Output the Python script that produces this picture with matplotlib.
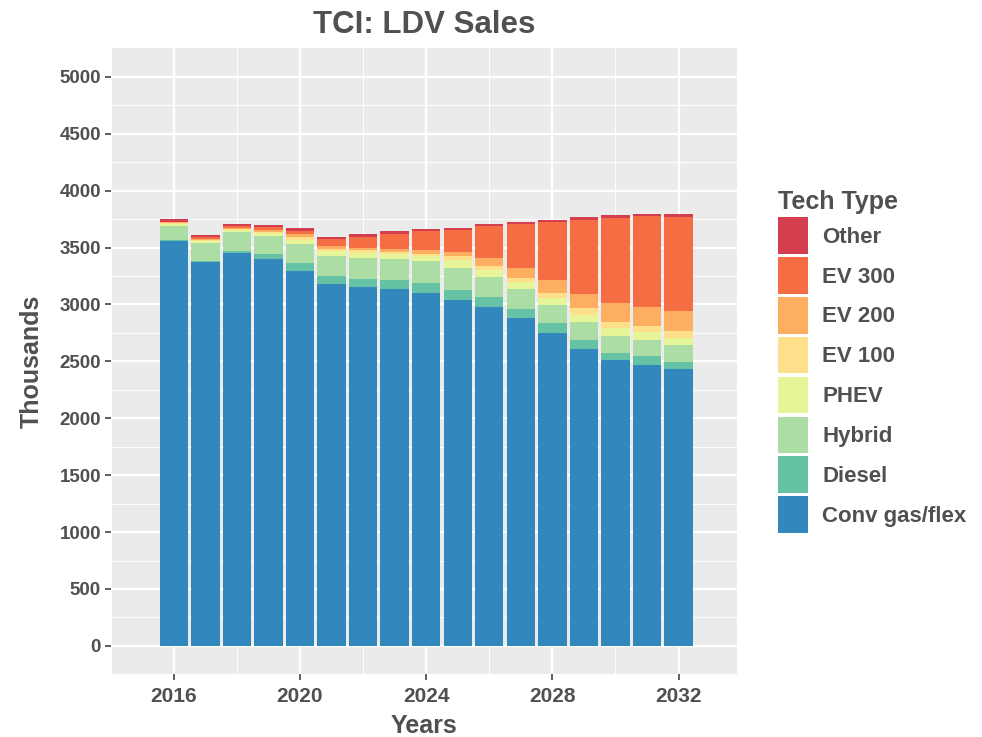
import numpy as np
import matplotlib.pyplot as plt
from matplotlib.patches import Patch

plt.rcParams['font.family'] = ['Liberation Sans', 'DejaVu Sans']

years = np.arange(2016, 2033)

# sales in thousands
conv = [3558, 3375, 3453, 3398, 3296, 3180, 3150, 3133, 3103, 3040, 2975, 2882, 2753, 2610, 2508, 2470, 2432]
diesel = [10, 10, 20, 50, 70, 73, 73, 82, 88, 88, 88, 79, 82, 79, 70, 73, 67]
hybrid = [123, 155, 160, 154, 165, 175, 190, 184, 193, 190, 181, 175, 160, 160, 146, 146, 146]
phev = [17, 20, 20, 22, 40, 44, 44, 44, 44, 73, 58, 58, 61, 58, 67, 67, 64]
ev100 = [10, 10, 10, 13, 20, 20, 20, 20, 20, 35, 38, 38, 41, 58, 58, 58, 61]
ev200 = [5, 10, 10, 15, 30, 20, 20, 29, 35, 38, 73, 93, 117, 123, 161, 166, 175]
ev300 = [5, 15, 15, 30, 29, 60, 100, 131, 160, 190, 274, 380, 510, 657, 753, 794, 824]
other = [20, 20, 20, 20, 20, 20, 20, 20, 20, 20, 23, 23, 23, 23, 23, 23, 23]

labels = ['Conv gas/flex', 'Diesel', 'Hybrid', 'PHEV', 'EV 100', 'EV 200', 'EV 300', 'Other']
series = [conv, diesel, hybrid, phev, ev100, ev200, ev300, other]
colors = ['#3288BD', '#66C2A5', '#ABDDA4', '#E6F598', '#FEE08B', '#FDAE61', '#F46D43', '#D53E4F']

txt = '#505050'

fig = plt.figure(figsize=(9.82, 7.37), dpi=100)
ax = fig.add_axes([0.1127, 0.0851, 0.6381, 0.8491])
ax.set_facecolor('#EBEBEB')

bottom = np.zeros(len(years))
for vals, col, lab in zip(series, colors, labels):
    ax.bar(years, vals, width=0.9, bottom=bottom, color=col, label=lab, zorder=3, linewidth=0)
    bottom += np.array(vals)

ax.set_xlim(2014.1, 2033.86)
ax.set_ylim(-250, 5250)
ax.set_xticks([2016, 2020, 2024, 2028, 2032])
ax.set_xticks([2014, 2018, 2022, 2026, 2030], minor=True)
ax.set_yticks(np.arange(0, 5001, 500))
ax.set_yticks(np.arange(250, 5001, 500), minor=True)
ax.grid(which='major', color='white', linewidth=1.6, zorder=0)
ax.grid(which='minor', color='white', linewidth=0.7, zorder=0)
ax.tick_params(which='minor', length=0)
ax.tick_params(which='major', length=4, color='#444444', width=1.2,
               labelcolor=txt)
ax.tick_params(axis='x', labelsize=15, pad=5)
ax.tick_params(axis='y', labelsize=13.5, pad=3)
for lbl in ax.get_xticklabels() + ax.get_yticklabels():
    lbl.set_fontweight('bold')
for s in ax.spines.values():
    s.set_visible(False)

ax.set_title('TCI: LDV Sales', fontsize=22.5, fontweight='bold', color=txt, pad=11)
ax.set_xlabel('Years', fontsize=18, fontweight='bold', color=txt, labelpad=6)
ax.set_ylabel('Thousands', fontsize=18, fontweight='bold', color=txt, labelpad=11)

handles = [Patch(facecolor=c, edgecolor='none', label=l) for c, l in zip(colors, labels)][::-1]
leg = fig.legend(handles=handles, loc='upper left', bbox_to_anchor=(0.7923, 0.742),
                 frameon=False, fontsize=16, title='Tech Type',
                 title_fontproperties={'size': 18, 'weight': 'bold'},
                 handlelength=1.35, handleheight=2.15, labelspacing=0.15,
                 handletextpad=0.63, borderpad=0, borderaxespad=0, alignment='left')
leg.get_title().set_color(txt)
for t in leg.get_texts():
    t.set_fontweight('bold')
    t.set_color(txt)

fig.savefig('out.png', dpi=100)
